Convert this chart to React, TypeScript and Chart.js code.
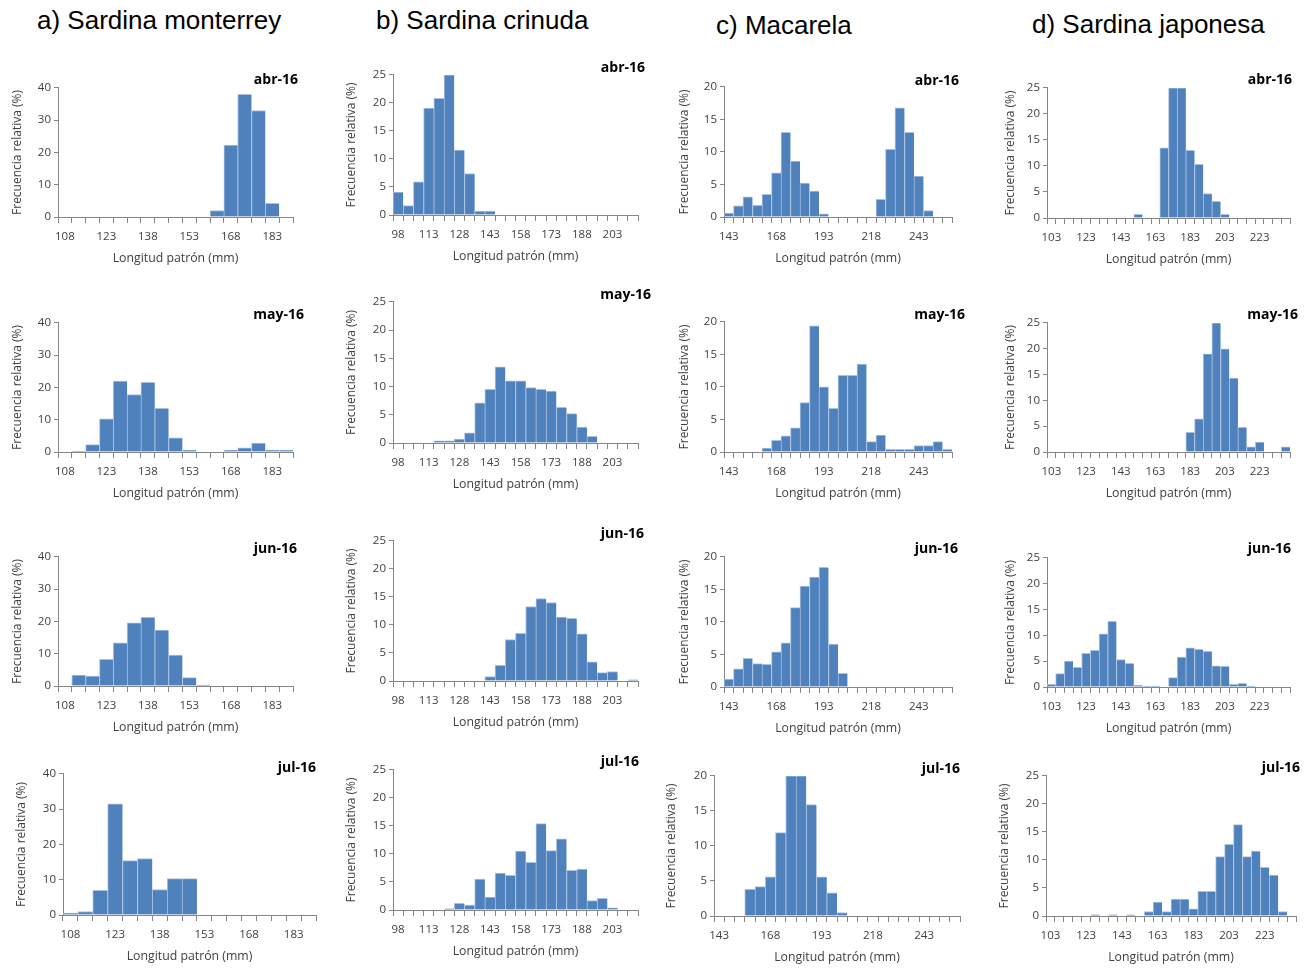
import React, { useEffect, useRef } from 'react';
import { Chart, registerables } from 'chart.js';

Chart.register(...registerables);

// ---------- categories (length classes, mm) ----------
const monterreyLengths = [108, 113, 118, 123, 128, 133, 138, 143, 148, 153, 158, 163, 168, 173, 178, 183, 188];
const crinudaLengths = [98, 103, 108, 113, 118, 123, 128, 133, 138, 143, 148, 153, 158, 163, 168, 173, 178, 183, 188, 193, 198, 203, 208, 213];
const macarelaLengths = [143, 148, 153, 158, 163, 168, 173, 178, 183, 188, 193, 198, 203, 208, 213, 218, 223, 228, 233, 238, 243, 248, 253, 258];
const japonesaLengths = [103, 108, 113, 118, 123, 128, 133, 138, 143, 148, 153, 158, 163, 168, 173, 178, 183, 188, 193, 198, 203, 208, 213, 218, 223, 228, 233, 238];

// ---------- relative frequencies (%) ----------
const monterreyAbr = [0, 0, 0, 0, 0, 0, 0, 0, 0, 0, 0, 2, 22.3, 38, 33, 4.2, 0];
const monterreyMay = [0, 0.3, 2.3, 10.3, 22, 17.8, 21.6, 13.5, 4.4, 0.5, 0, 0, 0.5, 1.3, 2.8, 0.6, 0.6];
const monterreyJun = [0, 3.4, 3.1, 8.3, 13.4, 19.6, 21.3, 17.3, 9.6, 2.6, 0.3, 0, 0, 0, 0, 0, 0];
const monterreyJul = [0.5, 1, 7, 31.5, 15.4, 16, 7.2, 10.3, 10.3, 0, 0, 0, 0, 0, 0, 0, 0];

const crinudaAbr = [4.1, 1.7, 5.9, 19.1, 20.8, 25, 11.6, 7.4, 0.7, 0.7, 0, 0, 0, 0, 0, 0, 0, 0, 0, 0, 0, 0, 0, 0];
const crinudaMay = [0, 0, 0, 0, 0.4, 0.4, 0.7, 1.8, 7.1, 9.5, 13.5, 11, 11, 9.8, 9.5, 9.2, 6.3, 5.2, 2.8, 1.2, 0, 0, 0, 0];
const crinudaJun = [0, 0, 0, 0, 0, 0, 0, 0, 0, 0.8, 2.8, 7.4, 8.5, 13.3, 14.7, 14, 11.4, 11.2, 8.4, 3.4, 1.5, 1.7, 0, 0.2];
const crinudaJul = [0, 0, 0, 0, 0, 0.2, 1.2, 0.9, 5.5, 2.3, 6.6, 6.2, 10.5, 8.5, 15.4, 10.6, 12.7, 7.1, 7.3, 1.7, 2.1, 0.4, 0, 0];

const macarelaAbr = [0.6, 1.7, 3.1, 1.8, 3.5, 6.8, 13, 8.6, 5.2, 4, 0.5, 0, 0, 0, 0, 0, 2.7, 10.4, 16.8, 13, 6.3, 1, 0, 0];
const macarelaMay = [0, 0, 0, 0, 0.6, 1.8, 2.5, 3.7, 7.6, 19.4, 10, 6.7, 11.8, 11.8, 13.5, 1.6, 2.6, 0.4, 0.4, 0.4, 1, 1, 1.6, 0.4];
const macarelaJun = [1.2, 2.8, 4.4, 3.6, 3.5, 5.4, 6.8, 12.2, 15.5, 16.9, 18.4, 6.6, 2.1, 0, 0, 0, 0, 0, 0, 0, 0, 0, 0, 0];
const macarelaJul = [0, 0, 0, 3.8, 4.2, 5.6, 11.9, 20, 20, 15.9, 5.6, 3.3, 0.5, 0, 0, 0, 0, 0, 0, 0, 0, 0, 0, 0];

const japonesaAbr = [0, 0, 0, 0, 0, 0, 0, 0, 0, 0, 0.7, 0, 0, 13.5, 25, 25, 13, 10.3, 4.7, 3.2, 0.7, 0, 0, 0, 0, 0, 0, 0];
const japonesaMay = [0, 0, 0, 0, 0, 0, 0, 0, 0, 0, 0, 0, 0, 0, 0, 0, 3.8, 6.4, 19, 25, 20, 14.3, 4.8, 1, 1.9, 0, 0, 1];
const japonesaJun = [0.5, 2.6, 5, 3.8, 6.5, 7.1, 10.3, 12.7, 5.3, 4.6, 0.3, 0.2, 0.2, 0, 1.8, 5.8, 7.6, 7.3, 6.9, 4.1, 4, 0.5, 0.7, 0.2, 0, 0, 0, 0];
const japonesaJul = [0, 0, 0, 0, 0, 0.2, 0, 0.2, 0, 0.2, 0, 0.8, 2.5, 0.8, 3, 3, 1.3, 4.4, 4.4, 10.6, 12.8, 16.3, 10.6, 11.6, 8.7, 7.3, 0.8, 0];

// ---------- panel texts ----------
const speciesTitles = ['a) Sardina monterrey', 'b) Sardina crinuda', 'c) Macarela', 'd) Sardina japonesa'];
const monthLabels = ['abr-16', 'may-16', 'jun-16', 'jul-16'];
const xTitle = 'Longitud patrón (mm)';
const yTitle = 'Frecuencia relativa (%)';

const BAR = '#4F81BD';
const AXIS = '#868686';
const TXT = '#404040';
const FONT = '"Open Sans", "DejaVu Sans", sans-serif';

type Panel = {
  lengths: number[];
  values: number[];
  month: string;
  yMax: number;
  yStep: number;
  every: number;
  L: number; R: number; T: number; B: number;
  yw: number;
  mx: number; my: number;
};

const panels: Panel[] = [
  { lengths: monterreyLengths, values: monterreyAbr, month: monthLabels[0], yMax: 40, yStep: 10, every: 3, L: 58, R: 293, T: 87, B: 217, yw: 52, mx: 298, my: 79 },
  { lengths: monterreyLengths, values: monterreyMay, month: monthLabels[1], yMax: 40, yStep: 10, every: 3, L: 58, R: 293, T: 322, B: 452, yw: 52, mx: 304, my: 314 },
  { lengths: monterreyLengths, values: monterreyJun, month: monthLabels[2], yMax: 40, yStep: 10, every: 3, L: 58, R: 293, T: 556, B: 686, yw: 52, mx: 297, my: 548 },
  { lengths: monterreyLengths, values: monterreyJul, month: monthLabels[3], yMax: 40, yStep: 10, every: 3, L: 63, R: 316, T: 773, B: 915, yw: 53, mx: 316, my: 767 },

  { lengths: crinudaLengths, values: crinudaAbr, month: monthLabels[0], yMax: 25, yStep: 5, every: 3, L: 393, R: 638, T: 74, B: 215, yw: 53, mx: 645, my: 67 },
  { lengths: crinudaLengths, values: crinudaMay, month: monthLabels[1], yMax: 25, yStep: 5, every: 3, L: 393, R: 638, T: 301, B: 443, yw: 53, mx: 651, my: 294 },
  { lengths: crinudaLengths, values: crinudaJun, month: monthLabels[2], yMax: 25, yStep: 5, every: 3, L: 393, R: 638, T: 540, B: 681, yw: 53, mx: 644, my: 533 },
  { lengths: crinudaLengths, values: crinudaJul, month: monthLabels[3], yMax: 25, yStep: 5, every: 3, L: 393, R: 638, T: 769, B: 910, yw: 53, mx: 639, my: 761 },

  { lengths: macarelaLengths, values: macarelaAbr, month: monthLabels[0], yMax: 20, yStep: 5, every: 5, L: 724, R: 952, T: 86, B: 217, yw: 51, mx: 959, my: 80 },
  { lengths: macarelaLengths, values: macarelaMay, month: monthLabels[1], yMax: 20, yStep: 5, every: 5, L: 724, R: 952, T: 321, B: 452, yw: 51, mx: 965, my: 314 },
  { lengths: macarelaLengths, values: macarelaJun, month: monthLabels[2], yMax: 20, yStep: 5, every: 5, L: 724, R: 952, T: 556, B: 687, yw: 51, mx: 958, my: 548 },
  { lengths: macarelaLengths, values: macarelaJul, month: monthLabels[3], yMax: 20, yStep: 5, every: 5, L: 714, R: 960, T: 775, B: 916, yw: 54, mx: 960, my: 768 },

  { lengths: japonesaLengths, values: japonesaAbr, month: monthLabels[0], yMax: 25, yStep: 5, every: 4, L: 1047, R: 1290, T: 87, B: 218, yw: 48, mx: 1292, my: 79 },
  { lengths: japonesaLengths, values: japonesaMay, month: monthLabels[1], yMax: 25, yStep: 5, every: 4, L: 1047, R: 1290, T: 322, B: 452, yw: 48, mx: 1298, my: 314 },
  { lengths: japonesaLengths, values: japonesaJun, month: monthLabels[2], yMax: 25, yStep: 5, every: 4, L: 1047, R: 1290, T: 557, B: 687, yw: 48, mx: 1291, my: 548 },
  { lengths: japonesaLengths, values: japonesaJul, month: monthLabels[3], yMax: 25, yStep: 5, every: 4, L: 1046, R: 1296, T: 775, B: 916, yw: 53, mx: 1300, my: 767 },
];

const titlePos = [
  { x: 37, y: 20 },
  { x: 376, y: 20 },
  { x: 716, y: 25 },
  { x: 1032, y: 24 },
];

const XH = 53;
const PT = 9;
const PR = 10;

function HistPanel({ p }: { p: Panel }) {
  const ref = useRef<HTMLCanvasElement>(null);
  const w = p.R - p.L + p.yw + PR;
  const h = p.B - p.T + PT + XH;

  useEffect(() => {
    if (!ref.current) return;
    const labels = p.lengths.map(String);
    const chart = new Chart(ref.current, {
      type: 'bar',
      data: {
        labels,
        datasets: [
          {
            data: p.values,
            backgroundColor: BAR,
            borderColor: '#A9C1E1',
            borderWidth: { top: 1, left: 1, right: 0, bottom: 0 },
            barPercentage: 1,
            categoryPercentage: 1,
          },
        ],
      },
      options: {
        responsive: false,
        animation: false,
        devicePixelRatio: 1,
        layout: { padding: { top: PT, right: PR, left: 0, bottom: 0 } },
        plugins: { legend: { display: false }, tooltip: { enabled: false } },
        scales: {
          x: {
            type: 'category',
            offset: true,
            grid: {
              display: true,
              offset: true,
              drawOnChartArea: false,
              drawTicks: true,
              tickLength: 6,
              color: AXIS,
            },
            border: { display: true, color: AXIS },
            ticks: {
              autoSkip: false,
              maxRotation: 0,
              minRotation: 0,
              padding: 7,
              color: TXT,
              font: { family: FONT, size: 11.5 },
              callback: (_v: any, i: number) => (i % p.every === 0 ? labels[i] : ''),
            },
            title: {
              display: true,
              text: xTitle,
              color: TXT,
              font: { family: FONT, size: 12.3 },
              padding: { top: 0, bottom: 4 },
            },
            afterFit: (s: any) => {
              s.height = XH;
            },
          },
          y: {
            min: 0,
            max: p.yMax,
            grid: {
              display: true,
              drawOnChartArea: false,
              drawTicks: true,
              tickLength: 4,
              color: AXIS,
            },
            border: { display: true, color: AXIS },
            ticks: {
              stepSize: p.yStep,
              padding: 3,
              color: TXT,
              font: { family: FONT, size: 11.5 },
            },
            title: {
              display: true,
              text: yTitle,
              color: TXT,
              font: { family: FONT, size: 12 },
              padding: { top: 4, bottom: 0 },
            },
            afterFit: (s: any) => {
              s.width = p.yw;
            },
          },
        },
      },
    } as any);
    return () => chart.destroy();
  }, [p]);

  return (
    <canvas
      ref={ref}
      width={w}
      height={h}
      style={{ position: 'absolute', left: p.L - p.yw, top: p.T - PT, width: w, height: h }}
    />
  );
}

export default function App() {
  return (
    <div
      style={{
        position: 'absolute',
        left: 0,
        top: 0,
        width: 1310,
        height: 969,
        background: '#ffffff',
        overflow: 'hidden',
      }}
    >
      {speciesTitles.map((t, i) => (
        <div
          key={t}
          style={{
            position: 'absolute',
            left: titlePos[i].x,
            top: titlePos[i].y - 15,
            height: 30,
            lineHeight: '30px',
            fontFamily: '"Liberation Sans", Arial, sans-serif',
            fontSize: 26,
            color: '#000',
            whiteSpace: 'nowrap',
          }}
        >
          {t}
        </div>
      ))}
      {panels.map((p, i) => (
        <HistPanel key={i} p={p} />
      ))}
      {panels.map((p, i) => (
        <div
          key={'m' + i}
          style={{
            position: 'absolute',
            right: 1310 - p.mx,
            top: p.my - 10,
            height: 20,
            lineHeight: '20px',
            fontFamily: FONT,
            fontWeight: 700,
            fontSize: 14,
            color: '#000',
            whiteSpace: 'nowrap',
          }}
        >
          {p.month}
        </div>
      ))}
    </div>
  );
}
